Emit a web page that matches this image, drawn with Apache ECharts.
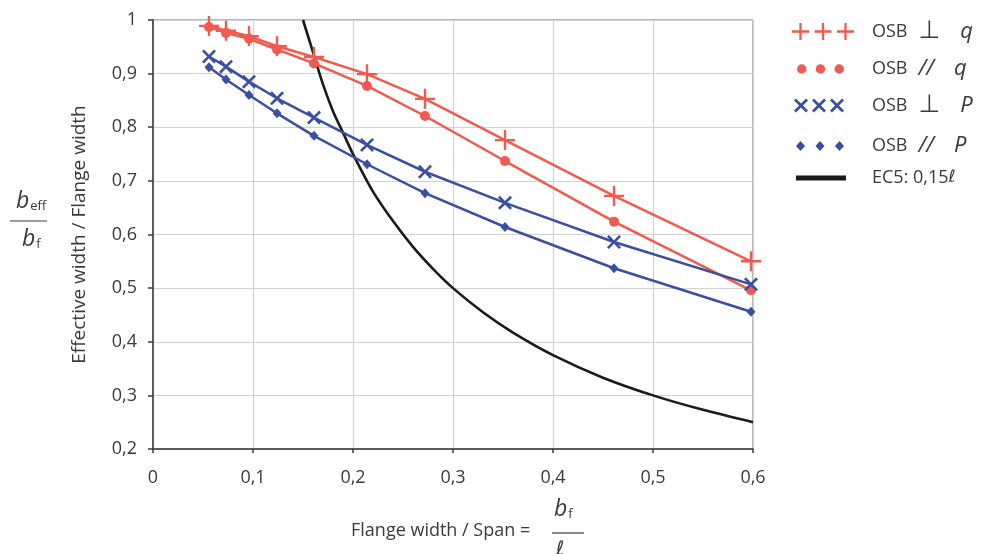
<!DOCTYPE html>
<html>
<head>
<meta charset="utf-8">
<script src="https://cdn.jsdelivr.net/npm/echarts@6/dist/echarts.min.js"></script>
<style>html,body{margin:0;padding:0;background:#fff}#c{width:987px;height:554px}</style>
</head>
<body>
<div id="c"></div>
<script>
// ---- data ----
const xRatio = [0.056, 0.073, 0.096, 0.124, 0.161, 0.214, 0.272, 0.352, 0.461, 0.598];
const perpQ = [0.989, 0.980, 0.970, 0.951, 0.931, 0.899, 0.853, 0.776, 0.672, 0.550];
const parQ  = [0.987, 0.976, 0.965, 0.945, 0.919, 0.877, 0.821, 0.737, 0.624, 0.496];
const perpP = [0.932, 0.913, 0.885, 0.854, 0.818, 0.767, 0.717, 0.659, 0.586, 0.507];
const parP  = [0.912, 0.889, 0.860, 0.826, 0.784, 0.731, 0.677, 0.614, 0.537, 0.456];
const ec5X = [0.15, 0.16, 0.17, 0.18, 0.19, 0.20, 0.22, 0.24, 0.26, 0.28, 0.30, 0.33, 0.36, 0.40, 0.45, 0.50, 0.55, 0.60];
const ec5Y = [1.00, 0.94, 0.88, 0.83, 0.79, 0.75, 0.68, 0.625, 0.577, 0.536, 0.50, 0.455, 0.417, 0.375, 0.333, 0.30, 0.273, 0.25];
const seriesNames = ['OSB ⊥ q', 'OSB // q', 'OSB ⊥ P', 'OSB // P', 'EC5: 0,15ℓ'];
const xTicks = [0, 0.1, 0.2, 0.3, 0.4, 0.5, 0.6];
const xTickLabels = ['0', '0,1', '0,2', '0,3', '0,4', '0,5', '0,6'];
const yTicks = [0.2, 0.3, 0.4, 0.5, 0.6, 0.7, 0.8, 0.9, 1];
const yTickLabels = ['0,2', '0,3', '0,4', '0,5', '0,6', '0,7', '0,8', '0,9', '1'];

// ---- styling helpers ----
const RED = '#F15A4F', BLUE = '#3A4FA2', BLACK = '#1a1a1a', TXT = '#3a3a3a';
const FONT = 'Open Sans';
const FS = 18;
function plus(cx, cy, r, t) {
  return `M${cx-t},${cy-r}L${cx+t},${cy-r}L${cx+t},${cy-t}L${cx+r},${cy-t}L${cx+r},${cy+t}L${cx+t},${cy+t}L${cx+t},${cy+r}L${cx-t},${cy+r}L${cx-t},${cy+t}L${cx-r},${cy+t}L${cx-r},${cy-t}L${cx-t},${cy-t}Z`;
}
function cross(cx, cy, h, t) {
  const d = t * Math.SQRT2;
  const p = [[cx-h,cy-h+d],[cx-h+d,cy-h],[cx,cy-d],[cx+h-d,cy-h],[cx+h,cy-h+d],[cx+d,cy],[cx+h,cy+h-d],[cx+h-d,cy+h],[cx,cy+d],[cx-h+d,cy+h],[cx-h,cy+h-d],[cx-d,cy]];
  return 'M' + p.map(q => q[0] + ',' + q[1]).join('L') + 'Z';
}
function circ(cx, cy, r) {
  return `M${cx-r},${cy}a${r},${r} 0 1,0 ${2*r},0a${r},${r} 0 1,0 ${-2*r},0Z`;
}
function diam(cx, cy, w, h) {
  return `M${cx},${cy-h}L${cx+w},${cy}L${cx},${cy+h}L${cx-w},${cy}Z`;
}
const symPlus = 'path://' + plus(10, 10, 10, 1.2);
const symCross = 'path://' + cross(7, 7, 7, 1.3);
const legPlus = 'path://' + plus(8.5, 8.5, 8.5, 1.15) + plus(31, 8.5, 8.5, 1.15) + plus(53.5, 8.5, 8.5, 1.15);
const legCirc = 'path://' + circ(4.75, 4.75, 4.75) + circ(23.5, 4.75, 4.75) + circ(42.25, 4.75, 4.75);
const legCross = 'path://' + cross(7, 7, 7, 1.35) + cross(25, 7, 7, 1.35) + cross(43, 7, 7, 1.35);
const legDiam = 'path://' + diam(4.5, 5, 4.5, 5) + diam(24, 5, 4.5, 5) + diam(43.5, 5, 4.5, 5);

const pairs = (xs, ys) => xs.map((x, i) => [x, ys[i]]);
const tickLabel = (ticks, labels) => v => {
  const i = ticks.findIndex(t => Math.abs(t - v) < 1e-6);
  return i < 0 ? '' : labels[i];
};

const LH = 22;
const legendRich = {
  o: { fontFamily: FONT, fontSize: FS, color: TXT, lineHeight: LH },
  s: { fontFamily: 'DejaVu Sans', fontSize: 25, color: TXT, lineHeight: LH, padding: [0, 0, 0, 11] },
  d: { fontFamily: FONT, fontStyle: 'italic', fontSize: 22, color: TXT, lineHeight: LH, padding: [0, 0, 0, 11] },
  i: { fontFamily: FONT, fontStyle: 'italic', fontSize: 22, color: TXT, lineHeight: LH, padding: [0, 0, 0, 20] },
  e: { fontFamily: FONT, fontSize: FS, color: TXT, lineHeight: LH },
  l: { fontFamily: 'DejaVu Sans', fontStyle: 'italic', fontSize: 17, color: TXT, lineHeight: LH }
};
function legendFmt(name) {
  if (name.startsWith('EC5')) return '{e|EC5: 0,15}{l|ℓ}';
  const parts = name.split(' ');
  const sym = parts[1] === '⊥' ? `{s|${parts[1]}}` : `{d|${parts[1]}}`;
  return `{o|${parts[0]}}${sym}{i|${parts[2]}}`;
}
const legendDefs = [
  { name: seriesNames[0], icon: legPlus, w: 62, h: 17, left: 792, cy: 30, pad: 13 },
  { name: seriesNames[1], icon: legCirc, w: 47, h: 9.5, left: 797, cy: 69, pad: 23 },
  { name: seriesNames[2], icon: legCross, w: 50, h: 14, left: 794, cy: 104, pad: 23 },
  { name: seriesNames[3], icon: legDiam, w: 48, h: 10, left: 796, cy: 146, pad: 23 },
  { name: seriesNames[4], icon: 'rect', w: 50, h: 5, left: 796, cy: 178, pad: 21 }
];
const legends = legendDefs.map(d => ({
  left: d.left, top: d.cy - Math.max(d.h, LH) / 2, padding: 0, orient: 'vertical',
  itemWidth: d.w, itemHeight: d.h, selectedMode: false,
  itemStyle: { borderWidth: 0 },
  data: [{ name: d.name, icon: d.icon }],
  formatter: legendFmt,
  textStyle: { rich: legendRich, lineHeight: LH, padding: [0, 0, 0, d.pad] }
}));

const lineBase = { type: 'line', smooth: false, lineStyle: { width: 2.5 }, itemStyle: { borderWidth: 0 }, emphasis: { disabled: true }, z: 3 };
const fracRich = {
  b: { fontFamily: FONT, fontStyle: 'italic', fontSize: 23, fill: TXT },
  s: { fontFamily: FONT, fontSize: 13, fill: TXT, padding: [9, 0, 0, 1] }
};

const chart = echarts.init(document.getElementById('c'), null, { renderer: 'canvas' });
chart.setOption({
  animation: false,
  backgroundColor: '#fff',
  textStyle: { fontFamily: FONT },
  grid: { left: 153, right: 234, top: 20, bottom: 105, show: true, borderColor: '#707070', borderWidth: 1 },
  legend: legends,
  xAxis: {
    type: 'value', min: 0, max: 0.6, interval: 0.1,
    axisLine: { show: true, onZero: false, lineStyle: { color: '#3a3a3a', width: 1.5 } },
    axisTick: { show: true, length: 4, lineStyle: { color: '#3a3a3a', width: 1.5 } },
    axisLabel: { formatter: tickLabel(xTicks, xTickLabels), color: TXT, fontSize: FS, fontFamily: FONT, margin: 20 },
    splitLine: { show: true, lineStyle: { color: '#d2d2d2', width: 1.2 } }
  },
  yAxis: {
    type: 'value', min: 0.2, max: 1, interval: 0.1,
    name: 'Effective width / Flange width', nameLocation: 'middle', nameGap: 64, nameRotate: 90,
    nameTextStyle: { color: TXT, fontSize: 19, fontFamily: FONT },
    axisLine: { show: true, onZero: false, lineStyle: { color: '#3a3a3a', width: 1.5 } },
    axisTick: { show: true, length: 5, lineStyle: { color: '#3a3a3a', width: 1.5 } },
    axisLabel: { formatter: tickLabel(yTicks, yTickLabels), color: TXT, fontSize: FS, fontFamily: FONT, margin: 16 },
    splitLine: { show: true, lineStyle: { color: '#d2d2d2', width: 1.2 } }
  },
  graphic: [
    { type: 'text', left: 16, top: 190, style: { text: '{b|b}{s|eff}', rich: fracRich } },
    { type: 'line', shape: { x1: 10, y1: 221, x2: 47, y2: 221 }, style: { stroke: TXT, lineWidth: 1.2 } },
    { type: 'text', left: 22, top: 228, style: { text: '{b|b}{s|f}', rich: fracRich } },
    { type: 'text', left: 351, top: 522, style: { text: 'Flange width / Span =', fontFamily: FONT, fontSize: 18, fill: TXT } },
    { type: 'text', left: 554, top: 498, style: { text: '{b|b}{s|f}', rich: fracRich } },
    { type: 'line', shape: { x1: 552, y1: 533, x2: 584, y2: 533 }, style: { stroke: TXT, lineWidth: 1.2 } },
    { type: 'text', left: 556, top: 540, style: { text: 'ℓ', fontFamily: 'DejaVu Sans', fontStyle: 'italic', fontSize: 20, fill: TXT } }
  ],
  series: [
    Object.assign({}, lineBase, { name: seriesNames[0], data: pairs(xRatio, perpQ), color: RED, symbol: symPlus, symbolSize: 20 }),
    Object.assign({}, lineBase, { name: seriesNames[1], data: pairs(xRatio, parQ), color: RED, symbol: 'circle', symbolSize: 10 }),
    Object.assign({}, lineBase, { name: seriesNames[2], data: pairs(xRatio, perpP), color: BLUE, symbol: symCross, symbolSize: 14 }),
    Object.assign({}, lineBase, { name: seriesNames[3], data: pairs(xRatio, parP), color: BLUE, symbol: 'diamond', symbolSize: [9, 10] }),
    { type: 'line', name: seriesNames[4], data: pairs(ec5X, ec5Y), color: BLACK, symbol: 'none', smooth: 0.3, lineStyle: { width: 2.6 }, emphasis: { disabled: true }, z: 2 }
  ]
});
</script>
</body>
</html>
